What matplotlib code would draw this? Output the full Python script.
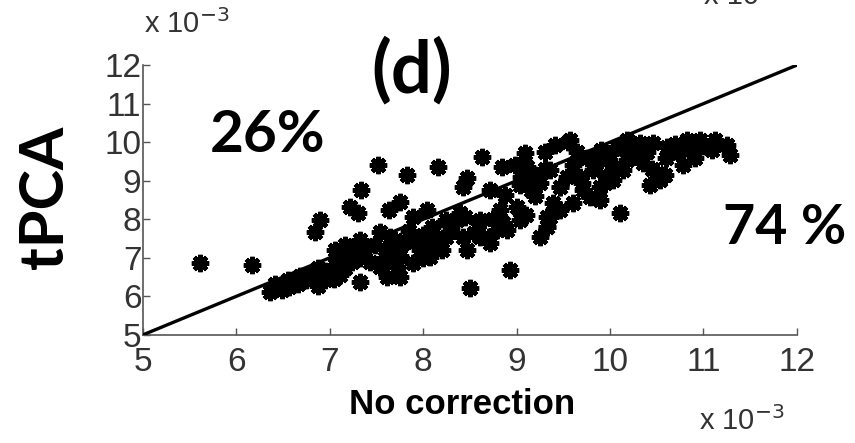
import matplotlib
matplotlib.use("Agg")
import matplotlib.pyplot as plt
import numpy as np

# values in units of 1e-3
no_corr = [5.61, 6.17,
           6.36, 6.49, 6.57, 6.66, 6.75, 6.41, 6.55, 6.68, 6.81, 6.87, 6.95, 7.00, 6.87,
           7.06, 7.11, 7.16, 7.24, 7.32, 7.19,
           6.90, 6.84, 7.22, 7.30, 7.34, 7.52,
           7.32, 8.50, 8.93,
           7.83, 7.75, 8.16, 8.47, 8.63, 8.84, 9.09, 9.11, 9.55, 8.43, 8.39, 8.36,
           7.89, 8.04, 8.10, 8.25, 8.61, 8.82, 9.00, 9.04, 8.90, 9.33, 9.33, 9.25,
           9.39, 9.46, 9.54, 8.47, 7.64, 7.78, 7.61, 7.97, 8.10, 8.25, 8.43, 8.61,
           8.72, 8.79, 7.54, 7.72, 7.89, 8.07, 7.75, 7.61,
           7.38, 7.48, 7.43, 7.59, 7.70, 7.54, 7.32,
           9.57, 9.46, 9.68, 9.82, 9.97, 10.07, 10.18, 10.32, 10.46, 10.61, 10.75,
           10.82, 10.32, 10.50, 10.54, 10.14, 10.18, 10.03, 9.89, 9.79, 9.60, 9.46,
           10.11, 9.36, 9.33, 9.36, 9.71, 9.89, 9.97,
           10.96, 11.12, 11.25, 11.28, 11.09, 10.91, 10.78, 10.59, 10.43,
           8.72, 8.88, 9.04, 9.20, 8.98, 9.30, 9.41, 7.06, 7.16,
           9.75, 9.90, 10.00, 10.25, 10.40, 10.60, 10.70, 10.05, 9.60, 9.20,
           8.00, 8.20, 7.90, 8.60, 8.75, 9.10,
           9.65, 9.85, 10.10, 10.20, 10.35, 10.45, 10.65, 10.85, 11.00, 10.00,
           9.95, 9.70, 9.15, 9.25, 9.05, 9.30,
           7.65, 7.85, 8.15, 8.30, 8.45, 8.00, 7.75,
           6.95, 7.10, 7.25, 7.05, 8.70, 8.85, 8.55]
tpca = [6.87, 6.81,
        6.11, 6.17, 6.24, 6.32, 6.42, 6.32, 6.42, 6.53, 6.58, 6.27, 6.42, 6.63, 6.74,
        6.81, 6.55, 6.74, 6.89, 7.00, 7.00,
        7.98, 7.67, 8.32, 8.16, 8.76, 9.40,
        6.37, 6.22, 6.68,
        9.15, 8.45, 9.35, 9.07, 9.61, 9.35, 9.72, 9.35, 10.00, 8.83, 8.16, 7.98,
        8.06, 8.24, 7.80, 7.98, 7.98, 8.24, 8.32, 7.98, 7.72, 8.06, 7.80, 7.54,
        8.42, 8.83, 9.09, 7.20, 8.24, 7.38, 7.20, 7.20, 7.38, 7.54, 7.54, 7.54,
        7.38, 7.72, 6.76, 6.76, 6.87, 7.02, 6.50, 6.50,
        7.20, 7.33, 6.89, 7.00, 7.46, 7.67, 7.46,
        10.05, 8.83, 9.09, 9.27, 9.53, 9.87, 10.05, 9.97, 9.97, 9.87, 9.79,
        10.05, 9.61, 9.20, 9.02, 9.27, 9.53, 9.02, 8.83, 8.58, 8.42, 8.24,
        8.16, 8.06, 7.80, 9.27, 8.76, 8.50, 9.09,
        10.05, 10.05, 9.92, 9.66, 9.79, 9.59, 9.40, 9.15, 8.89,
        8.76, 8.63, 8.89, 9.15, 9.40, 9.74, 9.92, 7.20, 7.33,
        9.60, 9.80, 9.70, 9.80, 9.75, 9.60, 9.95, 9.35, 9.40, 8.60,
        7.60, 7.20, 7.40, 7.90, 8.00, 8.10,
        9.75, 9.45, 9.90, 9.65, 9.45, 9.30, 9.75, 9.85, 9.90, 9.15,
        8.95, 8.95, 8.75, 8.95, 9.10, 9.30,
        7.55, 7.70, 7.55, 7.75, 8.05, 7.00, 7.05,
        6.65, 6.90, 7.10, 6.45, 7.55, 7.90, 7.65]
diag = [5, 12]

axis_gray = "#555555"

fig = plt.figure(figsize=(8.55, 4.43), dpi=100)
ax = fig.add_axes([0.167, 0.244, 0.765, 0.609])

ax.plot(diag, diag, color="black", lw=2.4, zorder=3)
ax.plot(no_corr, tpca, linestyle="none", marker=(8, 2, 0), markersize=12.5,
        mew=3.2, color="black", zorder=2)

ax.set_xlim(5, 12)
ax.set_ylim(5, 12)
ax.set_xticks(range(5, 13))
ax.set_yticks(range(5, 13))
for s in ["top", "right"]:
    ax.spines[s].set_visible(False)
for s in ["left", "bottom"]:
    ax.spines[s].set_color(axis_gray)
    ax.spines[s].set_linewidth(1.2)
ax.tick_params(direction="in", length=5, width=1, color=axis_gray,
               labelsize=24, labelcolor="#333333")
ax.tick_params(axis="x", pad=9)
ax.tick_params(axis="y", pad=1)
for lab in ax.get_xticklabels() + ax.get_yticklabels():
    lab.set_fontfamily("Liberation Sans")

bold = dict(family="Lato", weight="bold", color="black")
ax.text(7.88, 11.85, "(d)", fontsize=52, ha="center", va="center",
        clip_on=False, **bold)
ax.text(6.34, 10.18, "26%", fontsize=42, ha="center", va="center", **bold)
ax.text(11.87, 7.77, "74 %", fontsize=40, ha="center", va="center",
        clip_on=False, **bold)
fig.text(0.053, 0.555, "tPCA", fontsize=44, rotation=90, ha="center",
         va="center", **bold)
fig.text(0.54, 0.086, "No correction", fontsize=25, ha="center", va="center",
         family="Liberation Sans", weight="bold")

small = dict(family="Liberation Sans", fontsize=21, color="#333333")
fig.text(0.168, 0.945, r"x 10$^{-3}$", ha="left", va="center", **small)
fig.text(0.918, 0.05, r"x 10$^{-3}$", ha="right", va="center", **small)
fig.text(0.855, 1.01, r"x 10", ha="center", va="center", **small)

fig.savefig("out.png", dpi=100)
